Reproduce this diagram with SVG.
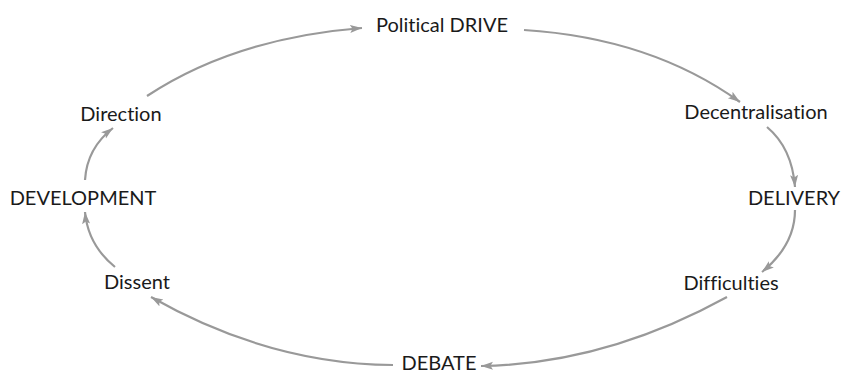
<svg xmlns="http://www.w3.org/2000/svg" width="843" height="374" viewBox="0 0 843 374">
<style>
.lbl{font-family:Lato,"Open Sans","Liberation Sans",sans-serif;font-size:20px;fill:#1a1a1a;text-anchor:middle;font-variant-ligatures:none;font-feature-settings:"liga" 0,"dlig" 0}
.c{fill:none;stroke:#999;stroke-width:2.2;marker-end:url(#ah)}
</style>
<defs>
<marker id="ah" markerUnits="userSpaceOnUse" markerWidth="14" markerHeight="10" refX="12" refY="4" orient="auto">
<path d="M0,0 L12,4 L0,8 L2.5,4 Z" fill="#999"/>
</marker>
</defs>
<rect width="843" height="374" fill="#fff"/>
<g id="connectors">
<path class="c" d="M147,96 Q235,38 362,28"/>
<path class="c" d="M524,30 Q651,38 740,102"/>
<path class="c" d="M767,127 Q792,148 795,187"/>
<path class="c" d="M795,210 Q795,245 762,272"/>
<path class="c" d="M727,297 Q605,364 481,366"/>
<path class="c" d="M393,365 Q269,364 151,297"/>
<path class="c" d="M115,267 Q88,245 85,212"/>
<path class="c" d="M85,180 Q87,148 113,128"/>
</g>
<g id="n-political"><text class="lbl" x="442" y="32">Political DRIVE</text></g>
<g id="n-decentralisation"><text class="lbl" x="756" y="119">Decentralisation</text></g>
<g id="n-delivery"><text class="lbl" x="794" y="205">DELIVERY</text></g>
<g id="n-difficulties"><text class="lbl" x="731" y="290">Difficulties</text></g>
<g id="n-debate"><text class="lbl" x="439" y="370">DEBATE</text></g>
<g id="n-dissent"><text class="lbl" x="137" y="289">Dissent</text></g>
<g id="n-development"><text class="lbl" x="83" y="205">DEVELOPMENT</text></g>
<g id="n-direction"><text class="lbl" x="121" y="121">Direction</text></g>
</svg>
